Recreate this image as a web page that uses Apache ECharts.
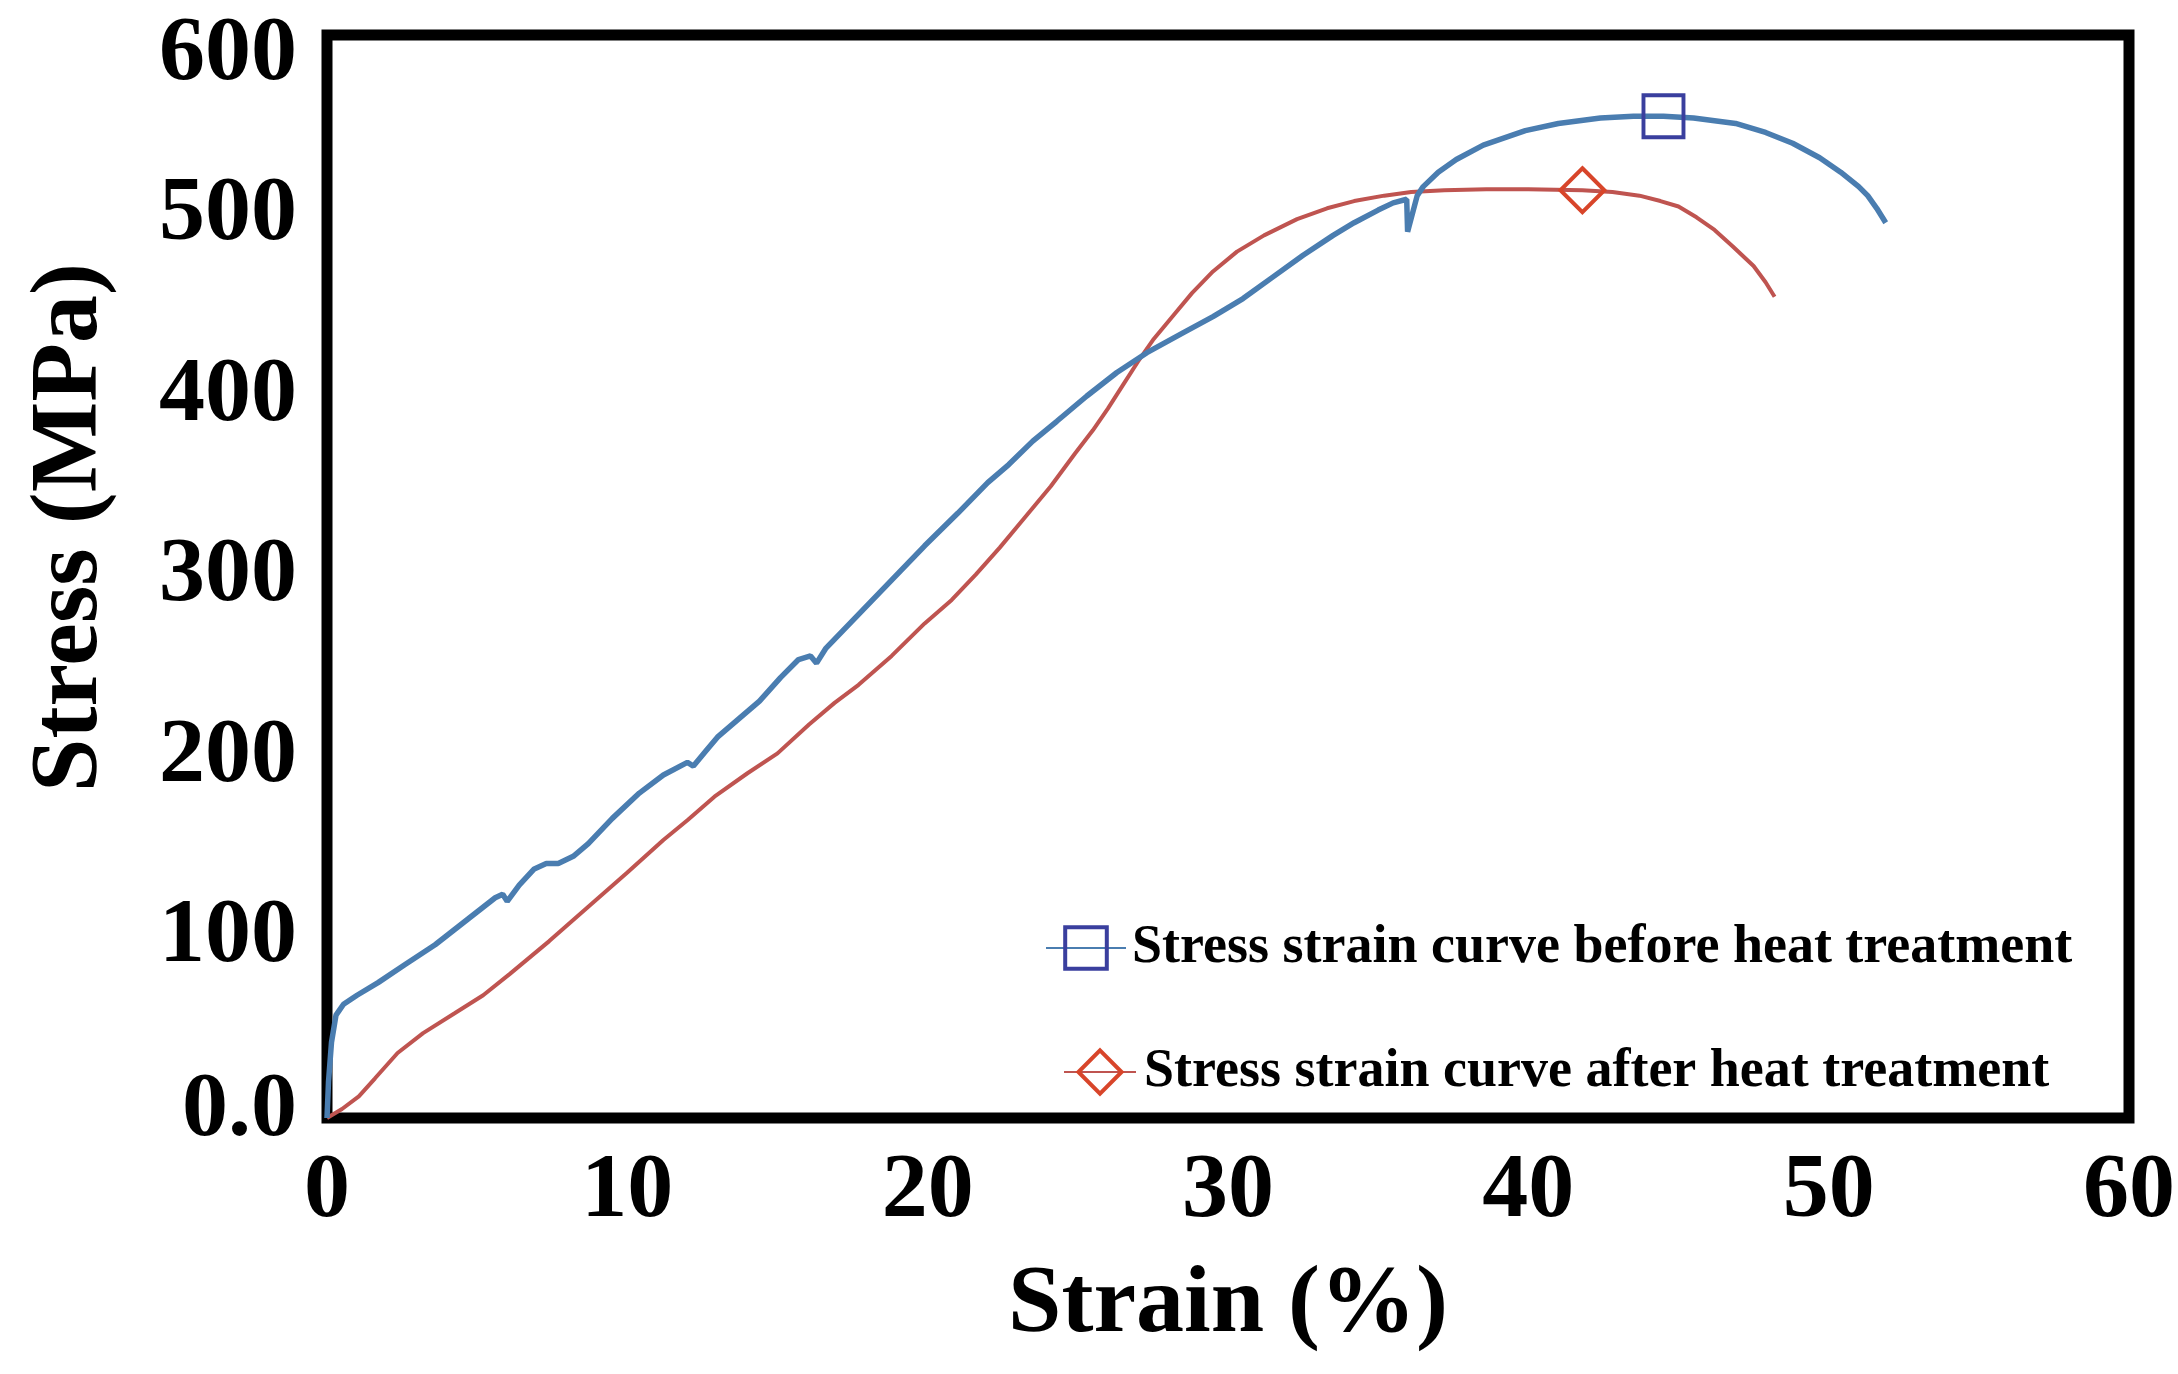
<!DOCTYPE html>
<html>
<head>
<meta charset="utf-8">
<script src="https://cdn.jsdelivr.net/npm/echarts@6/dist/echarts.min.js"></script>
<style>
html,body{margin:0;padding:0;background:#fff;}
#chart{width:2178px;height:1374px;}
</style>
</head>
<body>
<div id="chart"></div>
<script>
// Before heat treatment: strain (%) and stress (MPa)
const beforeStrain = [0,0.05,0.15,0.3,0.55,1.0,1.7,2.6,3.6,4.6,5.6,5.85,6.0,6.4,6.9,7.3,7.7,8.2,8.7,9.5,10.4,11.2,12.0,12.2,12.6,13.0,13.7,14.4,15.1,15.7,16.1,16.3,16.6,17.7,18.8,19.9,21.0,22.0,22.7,23.5,24.3,25.3,26.3,27.3,28.5,29.5,30.5,31.5,32.5,33.5,34.2,35.0,35.5,35.95,35.98,36.3,36.5,37.0,37.6,38.5,39.9,41.0,42.4,43.5,44.5,45.5,46.9,47.9,48.8,49.7,50.4,51.0,51.3,51.6,51.9];
const beforeStress = [0,20,42,57,63,68,75,85,96,109,122,124,120,129,138,141,141,145,152,166,180,190,197,195,203,211,221,231,244,254,256,252,260,279,298,317,335,352,362,375,386,400,413,424,435,444,454,466,478,489,496,503,507,509,491,511,516,524,531,539,547,551,554,555,555,554,551,546,540,532,524,516,511,504,496];
const beforePeakIndex = 64;

// After heat treatment: strain (%) and stress (MPa)
const afterStrain = [0,0.5,1.06,1.6,2.35,3.2,4.25,5.2,6.1,7.4,8.7,10.0,11.2,12.0,12.9,14.0,15.0,16.05,16.9,17.7,18.8,19.9,20.8,21.6,22.4,23.2,24.1,24.9,25.5,26.0,26.5,27.0,27.5,28.2,28.8,29.5,30.3,31.2,32.3,33.3,34.2,35.2,36.1,37.2,38.6,40.0,41.8,42.8,43.7,44.4,45.0,45.6,46.2,46.8,47.5,47.9,48.2];
const afterStress = [0,5,12,22,36,47,58,68,80,98,117,136,154,165,178,191,202,218,230,240,256,274,287,301,316,332,350,368,381,393,406,419,431,445,457,469,480,489,498,504,508,511,513,514,514.5,514.5,514,513,511,508,505,499,492,483,472,463,455];
const afterPeakIndex = 46;

const seriesNames = ['Stress strain curve before heat treatment', 'Stress strain curve after heat treatment'];
const xTicks = [0,10,20,30,40,50,60];
const yTicks = [0,100,200,300,400,500,600];

const FONT = 'Liberation Serif, Times New Roman, serif';

function buildData(xs, ys, peak) {
  return xs.map((x, i) => i === peak ? { value: [x, ys[i]] } : { value: [x, ys[i]], symbol: 'none' });
}

const blueLine = '#4a7db0', blueMark = '#3a3f9e';
const redLine = '#bf5450', redMark = '#d8452a';

const labelFont = { fontFamily: FONT, fontWeight: 'bold', fontSize: 92, color: '#000' };

const chart = echarts.init(document.getElementById('chart'), null, { renderer: 'canvas' });
chart.setOption({
  backgroundColor: '#fff',
  animation: false,
  grid: {
    left: 327, right: 42, top: 35, bottom: 256,
    show: true, borderColor: '#000', borderWidth: 11, backgroundColor: '#fff'
  },
  xAxis: {
    type: 'value', min: xTicks[0], max: xTicks[xTicks.length - 1], interval: 10,
    name: 'Strain (%)', nameLocation: 'middle', nameGap: 140,
    nameTextStyle: { fontFamily: FONT, fontWeight: 'bold', fontSize: 96, color: '#000' },
    axisLine: { show: false }, axisTick: { show: false }, splitLine: { show: false },
    axisLabel: Object.assign({ margin: 28 }, labelFont)
  },
  yAxis: {
    type: 'value', min: yTicks[0], max: yTicks[yTicks.length - 1], interval: 100,
    name: 'Stress (MPa)', nameLocation: 'middle', nameGap: 208, nameRotate: 90,
    nameTextStyle: { fontFamily: FONT, fontWeight: 'bold', fontSize: 96, color: '#000', padding: [0, 0, 0, 98] },
    axisLine: { show: false }, axisTick: { show: false }, splitLine: { show: false },
    axisLabel: Object.assign({
      margin: 30,
      formatter: v => v === 0 ? '{lo|0.0}' : (v === 600 ? '{hi|' + v + '}' : String(v)),
      rich: {
        lo: Object.assign({ lineHeight: 106, verticalAlign: 'top' }, labelFont),
        hi: Object.assign({ lineHeight: 132, verticalAlign: 'bottom' }, labelFont)
      }
    }, labelFont)
  },
  legend: [
    {
      data: [{ name: seriesNames[0], itemStyle: { color: 'transparent', borderColor: blueMark, borderWidth: 4 } }],
      left: 1040, top: 916, itemWidth: 80, itemHeight: 52,
      textStyle: { fontFamily: FONT, fontWeight: 'bold', fontSize: 54, color: '#000', padding: [0, 0, 0, 1] }
    },
    {
      data: [{ name: seriesNames[1], itemStyle: { color: 'transparent', borderColor: redMark, borderWidth: 4 } }],
      left: 1058, top: 1040, itemWidth: 72, itemHeight: 54,
      textStyle: { fontFamily: FONT, fontWeight: 'bold', fontSize: 54, color: '#000', padding: [0, 0, 0, 3] }
    }
  ],
  series: [
    {
      name: seriesNames[0], type: 'line', showSymbol: true, showAllSymbol: true,
      symbol: 'rect', symbolSize: [40, 42],
      data: buildData(beforeStrain, beforeStress, beforePeakIndex),
      lineStyle: { color: blueLine, width: 5.5 },
      itemStyle: { color: 'transparent', borderColor: blueMark, borderWidth: 4 },
      z: 3
    },
    {
      name: seriesNames[1], type: 'line', showSymbol: true, showAllSymbol: true,
      symbol: 'diamond', symbolSize: [44, 44],
      data: buildData(afterStrain, afterStress, afterPeakIndex),
      lineStyle: { color: redLine, width: 4 },
      itemStyle: { color: 'transparent', borderColor: redMark, borderWidth: 4 },
      z: 2
    }
  ]
});
</script>
</body>
</html>
